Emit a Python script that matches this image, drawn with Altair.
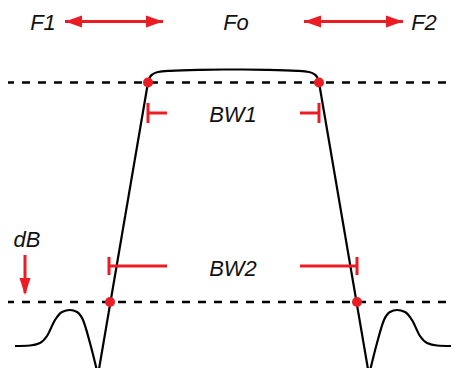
import altair as alt
import pandas as pd

# ---------------- data (diagram coordinates, y grows downward) ----------------
# smooth parts of the filter response
left_skirt_x = [15, 30, 40, 47, 55, 62, 70, 77, 83, 90, 98]
left_skirt_y = [346, 345.5, 343, 336, 320, 312, 310, 312, 320, 343, 375]
top_x = [148, 150, 153, 158, 170, 200, 233.5, 267, 297, 309, 314, 317, 319]
top_y = [82.5, 77, 74, 72, 70.8, 69.8, 69.5, 69.8, 70.8, 72, 74, 77, 82.5]
right_skirt_x = [369, 377, 384, 390, 397, 405, 412, 420, 427, 437, 452]
right_skirt_y = [375, 343, 320, 312, 310, 312, 320, 336, 343, 345.5, 346]
# straight flanks
left_flank_x = [98, 148]
left_flank_y = [375, 82.5]
right_flank_x = [319, 369]
right_flank_y = [82.5, 375]

# dashed reference levels
level_y = [82.5, 302]
level_x_start = [6, 6]
level_x_end = [459, 459]

# red intersection dots
dot_x = [148, 319, 110, 357]
dot_y = [82.5, 82.5, 302, 302]

# bandwidth markers: horizontal bars and end ticks
bar_x1 = [148, 300, 109, 300]
bar_x2 = [167, 319, 167, 357]
bar_y = [113, 113, 266, 266]
tick_x = [148, 319, 109, 357]
tick_y1 = [103, 103, 257, 257]
tick_y2 = [123, 123, 275, 275]

# arrows (shafts + heads at tips)
shaft_x1 = [65, 304, 25]
shaft_x2 = [163, 403, 25]
shaft_y1 = [21.5, 21.5, 255]
shaft_y2 = [21.5, 21.5, 293]
head_x = [65, 163, 304, 403, 25]
head_y = [21.5, 21.5, 21.5, 21.5, 295]
head_dir = ["left", "right", "left", "right", "down"]

# labels
labels = ["F1", "Fo", "F2", "BW1", "BW2", "dB"]
label_x = [43, 236, 424, 233, 233, 27]
label_y = [30, 30, 30, 121.5, 275.5, 247]

# ---------------- build chart ----------------
RED = "#ec1c24"
xs = alt.Scale(domain=[8, 451], nice=False, zero=False)
ys = alt.Scale(domain=[8, 368], nice=False, zero=False, reverse=True)


def X(f):
    return alt.X(f, type="quantitative", scale=xs, axis=None)


def Y(f):
    return alt.Y(f, type="quantitative", scale=ys, axis=None)


smooth_rows = []
for seg, (xx, yy) in {"ls": (left_skirt_x, left_skirt_y), "top": (top_x, top_y),
                      "rs": (right_skirt_x, right_skirt_y)}.items():
    for i, (a, b) in enumerate(zip(xx, yy)):
        smooth_rows.append({"seg": seg, "o": i, "x": a, "y": b})
smooth_df = pd.DataFrame(smooth_rows)

flank_rows = []
for seg, (xx, yy) in {"lf": (left_flank_x, left_flank_y), "rf": (right_flank_x, right_flank_y)}.items():
    for i, (a, b) in enumerate(zip(xx, yy)):
        flank_rows.append({"seg": seg, "o": i, "x": a, "y": b})
flank_df = pd.DataFrame(flank_rows)

levels_df = pd.DataFrame({"x": level_x_start, "x2": level_x_end, "y": level_y})
dots_df = pd.DataFrame({"x": dot_x, "y": dot_y})
bars_df = pd.DataFrame({"x": bar_x1, "x2": bar_x2, "y": bar_y})
ticks_df = pd.DataFrame({"x": tick_x, "y": tick_y1, "y2": tick_y2})
shafts_df = pd.DataFrame({"x": shaft_x1, "x2": shaft_x2, "y": shaft_y1, "y2": shaft_y2})
heads_df = pd.DataFrame({"x": head_x, "y": head_y, "dir": head_dir})
labels_df = pd.DataFrame({"t": labels, "x": label_x, "y": label_y})

levels = alt.Chart(levels_df).mark_rule(color="#000", strokeWidth=2.5, strokeDash=[8, 8]).encode(
    x=X("x"), x2="x2", y=Y("y"))

smooth = alt.Chart(smooth_df).mark_line(color="#000", strokeWidth=2.2, interpolate="monotone").encode(
    x=X("x"), y=Y("y"), detail="seg:N", order="o:Q")
flanks = alt.Chart(flank_df).mark_line(color="#000", strokeWidth=2.2).encode(
    x=X("x"), y=Y("y"), detail="seg:N", order="o:Q")

bars = alt.Chart(bars_df).mark_rule(color=RED, strokeWidth=3).encode(x=X("x"), x2="x2", y=Y("y"))
ticks = alt.Chart(ticks_df).mark_rule(color=RED, strokeWidth=3).encode(x=X("x"), y=Y("y"), y2="y2")
shafts = alt.Chart(shafts_df).mark_rule(color=RED, strokeWidth=3).encode(
    x=X("x"), x2="x2", y=Y("y"), y2="y2")

head_paths = {
    "right": "M0,0 L-2,-0.7 L-2,0.7 Z",
    "left": "M0,0 L2,-0.7 L2,0.7 Z",
    "down": "M0,0 L-0.65,-2 L0.65,-2 Z",
}
heads = alt.Chart(heads_df).mark_point(filled=True, color=RED, opacity=1, size=289, strokeWidth=0).encode(
    x=X("x"), y=Y("y"),
    shape=alt.Shape("dir:N", scale=alt.Scale(domain=list(head_paths.keys()),
                                              range=list(head_paths.values())), legend=None))

dots = alt.Chart(dots_df).mark_circle(color=RED, opacity=1, size=100).encode(x=X("x"), y=Y("y"))

texts = alt.Chart(labels_df).mark_text(
    font="Liberation Sans", fontStyle="italic", fontSize=22, color="#111",
    align="center", baseline="alphabetic").encode(x=X("x"), y=Y("y"), text="t:N")

chart = alt.layer(levels, smooth, flanks, bars, ticks, shafts, heads, dots, texts).properties(
    width=443, height=360, padding=0, autosize=alt.AutoSizeParams(type="none"),
    background="white",
).configure_view(stroke=None)

chart.save("out.html", embed_options={"renderer": "svg", "actions": False})
